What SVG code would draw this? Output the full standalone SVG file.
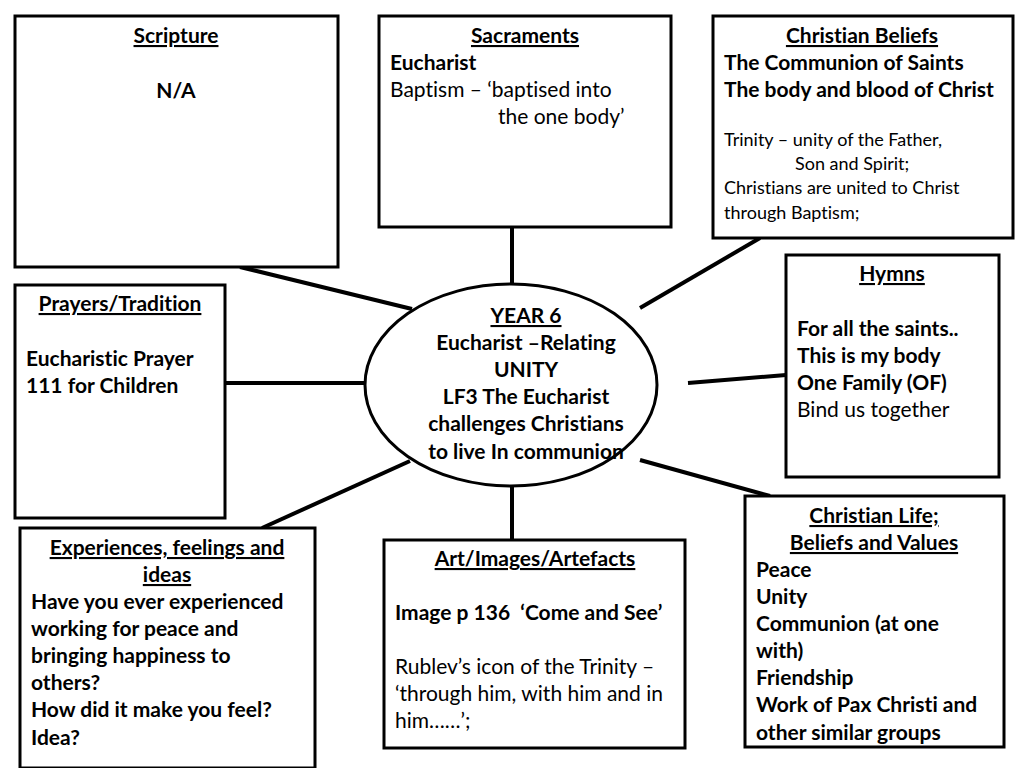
<svg xmlns="http://www.w3.org/2000/svg" width="1024" height="768" viewBox="0 0 1024 768">
<style>
text{font-family:Lato,"Open Sans","Liberation Sans",sans-serif;fill:#000;font-size:21px;font-variant-ligatures:none}
.b{font-weight:bold}
.u{font-weight:bold;text-decoration:underline}
.c{text-anchor:middle}
.s{font-size:18px}
.box{fill:#fff;stroke:#000;stroke-width:3}
.con{stroke:#000;stroke-width:4;fill:none}
</style>
<rect width="1024" height="768" fill="#fff"/>
<g id="connectors">
<line class="con" x1="240" y1="267" x2="412" y2="309"/>
<line class="con" x1="512" y1="228" x2="512" y2="284"/>
<line class="con" x1="760" y1="238" x2="640" y2="308"/>
<line class="con" x1="225" y1="383" x2="366" y2="383"/>
<line class="con" x1="786" y1="375" x2="688" y2="383"/>
<line class="con" x1="640" y1="460" x2="770" y2="496"/>
<line class="con" x1="512" y1="486" x2="512" y2="540"/>
<line class="con" x1="262" y1="528" x2="410" y2="461"/>
</g>
<g id="scripture">
<rect class="box" x="15" y="16" width="323" height="251"/>
<text class="u c" x="176" y="43">Scripture</text>
<text class="b c" x="176" y="98">N/A</text>
</g>
<g id="sacraments">
<rect class="box" x="379" y="16" width="292" height="211"/>
<text class="u c" x="525" y="43">Sacraments</text>
<text class="b" x="390" y="70">Eucharist</text>
<text x="390" y="97">Baptism – ‘baptised into</text>
<text x="498" y="124">the one body’</text>
</g>
<g id="beliefs">
<rect class="box" x="713" y="16" width="300" height="222"/>
<text class="u c" x="862" y="43">Christian Beliefs</text>
<text class="b" x="724" y="70">The Communion of Saints</text>
<text class="b" x="724" y="97">The body and blood of Christ</text>
<text class="s" x="724" y="146">Trinity – unity of the Father,</text>
<text class="s" x="795" y="170">Son and Spirit;</text>
<text class="s" x="724" y="194">Christians are united to Christ</text>
<text class="s" x="724" y="219">through Baptism;</text>
</g>
<g id="prayers">
<rect class="box" x="15" y="285" width="210" height="233"/>
<text class="u c" x="120" y="311">Prayers/Tradition</text>
<text class="b" x="26" y="366">Eucharistic Prayer</text>
<text class="b" x="26" y="393">111 for Children</text>
</g>
<g id="centre">
<ellipse cx="511" cy="385" rx="146" ry="101" fill="#fff" stroke="#000" stroke-width="3"/>
<text class="u c" x="526" y="323">YEAR 6</text>
<text class="b c" x="526" y="350">Eucharist –Relating</text>
<text class="b c" x="526" y="377">UNITY</text>
<text class="b c" x="526" y="404">LF3 The Eucharist</text>
<text class="b c" x="526" y="431">challenges Christians</text>
<text class="b c" x="526" y="459">to live In communion</text>
</g>
<g id="hymns">
<rect class="box" x="786" y="255" width="213" height="222"/>
<text class="u c" x="892" y="281">Hymns</text>
<text class="b" x="797" y="336">For all the saints..</text>
<text class="b" x="797" y="363">This is my body</text>
<text class="b" x="797" y="390">One Family (OF)</text>
<text x="797" y="417">Bind us together</text>
</g>
<g id="life">
<rect class="box" x="745" y="496" width="259" height="251"/>
<text class="u c" x="874" y="523">Christian Life;</text>
<text class="u c" x="874" y="550">Beliefs and Values</text>
<text class="b" x="756" y="577">Peace</text>
<text class="b" x="756" y="604">Unity</text>
<text class="b" x="756" y="631">Communion (at one</text>
<text class="b" x="756" y="658">with)</text>
<text class="b" x="756" y="685">Friendship</text>
<text class="b" x="756" y="712">Work of Pax Christi and</text>
<text class="b" x="756" y="740">other similar groups</text>
</g>
<g id="experiences">
<rect class="box" x="20" y="528" width="295" height="240"/>
<text class="u c" x="167" y="555">Experiences, feelings and</text>
<text class="u c" x="167" y="582">ideas</text>
<text class="b" x="31" y="609">Have you ever experienced</text>
<text class="b" x="31" y="636">working for peace and</text>
<text class="b" x="31" y="663">bringing happiness to</text>
<text class="b" x="31" y="690">others?</text>
<text class="b" x="31" y="717">How did it make you feel?</text>
<text class="b" x="31" y="745">Idea?</text>
</g>
<g id="art">
<rect class="box" x="384" y="540" width="301" height="208"/>
<text class="u c" x="535" y="566">Art/Images/Artefacts</text>
<text class="b" x="395" y="620" xml:space="preserve">Image p 136  ‘Come and See’</text>
<text x="395" y="674">Rublev’s icon of the Trinity –</text>
<text x="395" y="701">‘through him, with him and in</text>
<text x="395" y="728">him……’;</text>
</g>
</svg>
